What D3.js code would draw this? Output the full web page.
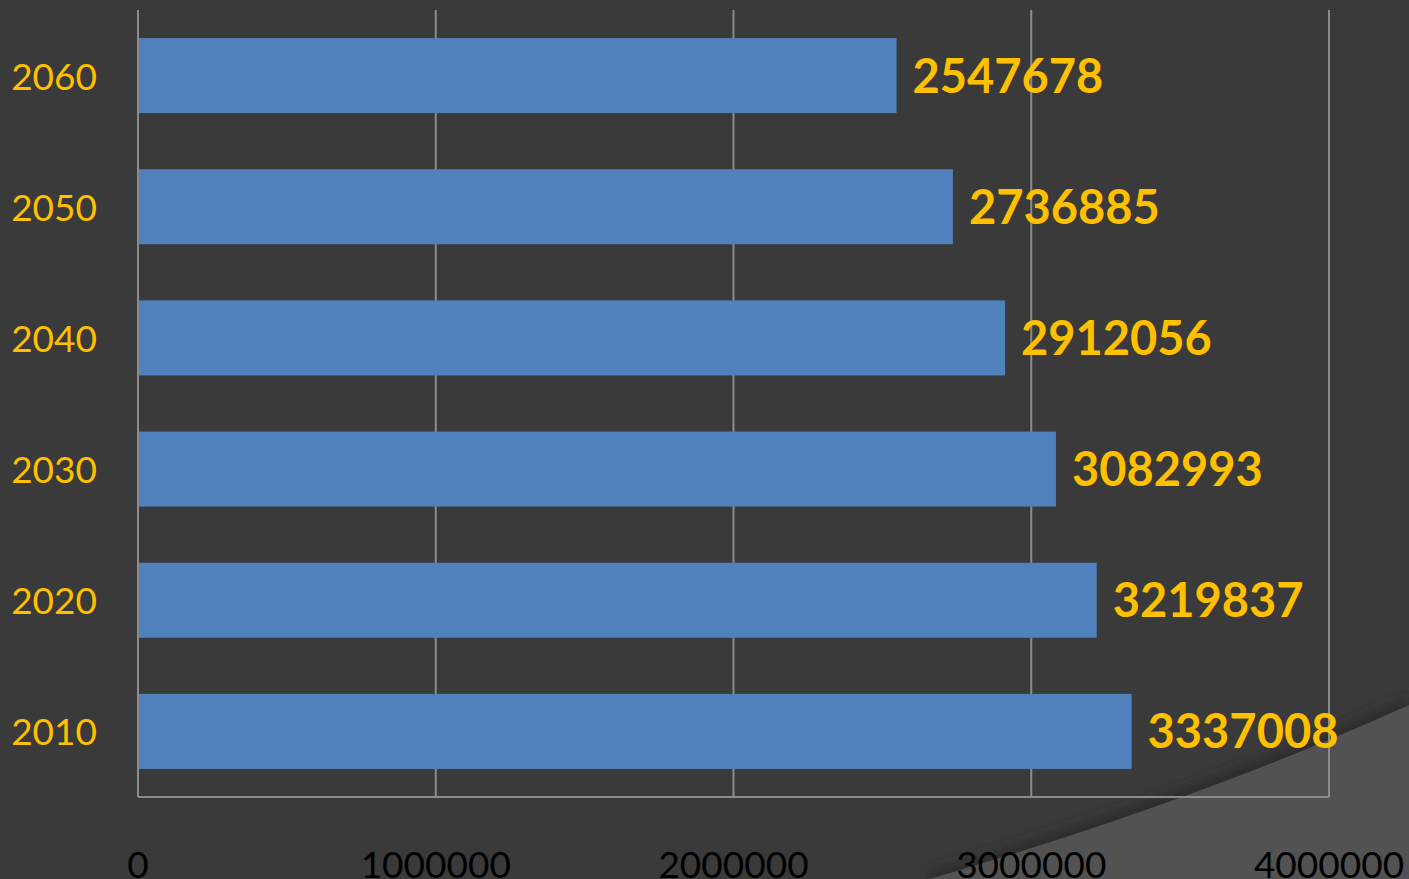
<!DOCTYPE html>
<html>
<head>
<meta charset="utf-8">
<script src="https://cdn.jsdelivr.net/npm/d3@7"></script>
<style>
  html, body { margin: 0; padding: 0; background: #3a3a3a; overflow: hidden; }
  svg { display: block; }
</style>
</head>
<body>
<svg id="chart" width="1409" height="879"></svg>
<script>
// Data
const years = ["2060", "2050", "2040", "2030", "2020", "2010"];
const population = [2547678, 2736885, 2912056, 3082993, 3219837, 3337008];
const xTicks = [0, 1000000, 2000000, 3000000, 4000000];

const svg = d3.select("#chart");
const width = 1409, height = 879;
const margin = { top: 10, right: 80, bottom: 82, left: 138 };
const innerWidth = width - margin.left - margin.right;
const innerHeight = height - margin.top - margin.bottom;

const data = years.map((y, i) => ({ year: y, value: population[i] }));

// Background + decorative swoosh in the lower right corner
svg.append("rect")
  .attr("width", width)
  .attr("height", height)
  .attr("fill", "#3a3a3a");

const defs = svg.append("defs");
defs.append("filter")
  .attr("id", "blur")
  .append("feGaussianBlur")
  .attr("stdDeviation", 6);

svg.append("path")
  .attr("d", "M930,879 Q1200,800 1409,705")
  .attr("fill", "none")
  .attr("stroke", "#2c2c2c")
  .attr("stroke-width", 14)
  .attr("filter", "url(#blur)");

svg.append("path")
  .attr("d", "M930,879 Q1200,800 1409,705 L1409,879 Z")
  .attr("fill", "#525252");

const g = svg.append("g")
  .attr("transform", `translate(${margin.left},${margin.top})`);

// Scales
const x = d3.scaleLinear()
  .domain([0, 4000000])
  .range([0, innerWidth]);

const y = d3.scaleBand()
  .domain(years)
  .range([0, innerHeight])
  .paddingInner(0.428)
  .paddingOuter(0.214);

// Gridlines
g.append("g")
  .selectAll("line")
  .data(xTicks)
  .join("line")
  .attr("x1", d => x(d))
  .attr("x2", d => x(d))
  .attr("y1", 0)
  .attr("y2", innerHeight)
  .attr("stroke", "#8c8c8c")
  .attr("stroke-width", 2);

// Bottom axis line
g.append("line")
  .attr("x1", 0)
  .attr("x2", innerWidth)
  .attr("y1", innerHeight)
  .attr("y2", innerHeight)
  .attr("stroke", "#8c8c8c")
  .attr("stroke-width", 2);

// Bars
g.selectAll("rect.bar")
  .data(data)
  .join("rect")
  .attr("class", "bar")
  .attr("x", x(0) + 1)
  .attr("y", d => y(d.year))
  .attr("width", d => x(d.value) - x(0) - 1)
  .attr("height", y.bandwidth())
  .attr("fill", "#4f81bd");

// Value labels
g.selectAll("text.value")
  .data(data)
  .join("text")
  .attr("class", "value")
  .attr("x", d => x(d.value) + 16)
  .attr("y", d => y(d.year) + y.bandwidth() / 2 + 17)
  .attr("font-family", "Lato, 'Open Sans', sans-serif")
  .attr("font-weight", "bold")
  .attr("font-size", 47)
  .attr("fill", "#ffc000")
  .text(d => d.value);

// Category labels
g.selectAll("text.year")
  .data(data)
  .join("text")
  .attr("class", "year")
  .attr("x", -41)
  .attr("y", d => y(d.year) + y.bandwidth() / 2 + 14)
  .attr("text-anchor", "end")
  .attr("font-family", "Lato, 'Open Sans', sans-serif")
  .attr("font-size", 37)
  .attr("fill", "#ffc000")
  .text(d => d.year);

// X tick labels
g.selectAll("text.tick")
  .data(xTicks)
  .join("text")
  .attr("class", "tick")
  .attr("x", d => x(d))
  .attr("y", innerHeight + 81)
  .attr("text-anchor", "middle")
  .attr("font-family", "Lato, 'Open Sans', sans-serif")
  .attr("font-size", 37)
  .attr("fill", "#000000")
  .text(d => d);
</script>
</body>
</html>
